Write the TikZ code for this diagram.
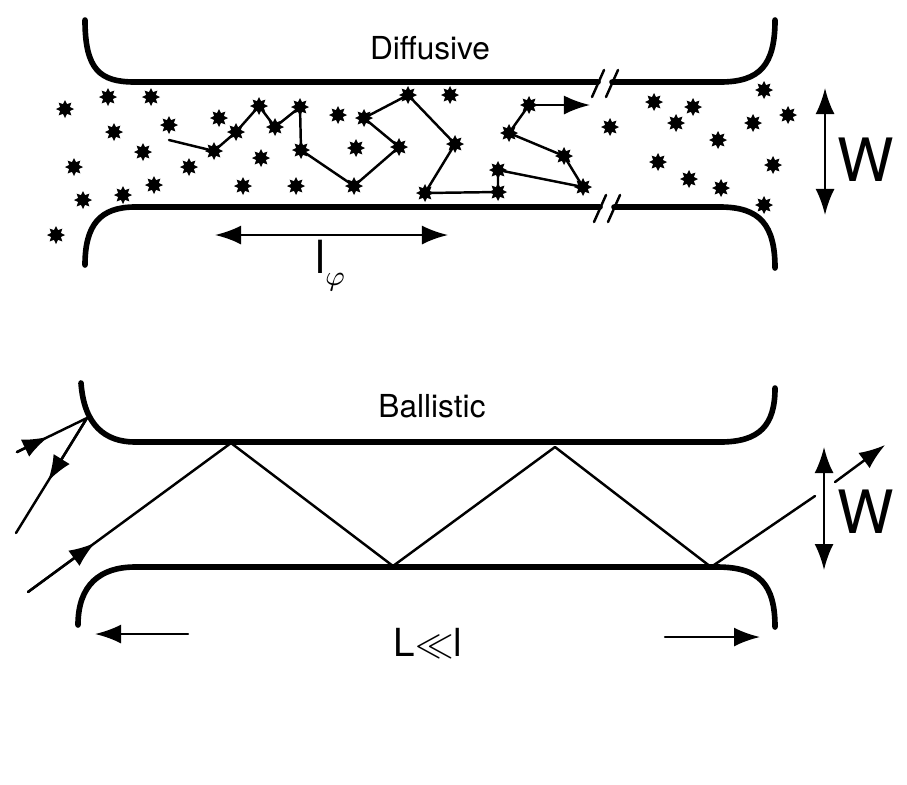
\documentclass[tikz,border=0pt]{standalone}
\usepackage{fontspec}
\setmainfont{TeX Gyre Heros}
\usetikzlibrary{shapes.geometric,arrows.meta,calc}
\begin{document}
\begin{tikzpicture}[x=0.01cm,y=-0.01cm,line join=round,line cap=round,
	>={Latex[length=2.6mm,width=1.9mm]},
	wall/.style={line width=1.6pt},
	ray/.style={line width=0.7pt},
	imp/.style={star,star points=8,star point ratio=1.7,fill,inner sep=0pt,minimum size=0.18cm},
	lab/.style={font=\fontsize{9}{10}\selectfont}]
	\useasboundingbox (0,0) rectangle (907,784);
	% diffusive wire
	\draw[wall] (85,20) .. controls (85,70) and (100,82) .. (135,82) -- (598,82);
	\draw[wall] (612,82) -- (720,82) .. controls (760,82) and (775,65) .. (775,20);
	\draw[wall] (85,265) .. controls (85,225) and (100,207) .. (135,207) -- (600,207);
	\draw[wall] (614,207) -- (720,207) .. controls (760,207) and (775,225) .. (775,268);
	\draw[ray] (592,97) -- (604,70) (606,97) -- (618,70);
	\draw[ray] (594,222) -- (606,195) (608,222) -- (620,195);
	\node[lab] (diff) at (430,48) {Diffusive};
	% impurities
	\foreach\x/\y [count=\i] in {108/97,151/97,65/109,114/132,169/125,219/118,338/115,
		450/95,143/152,261/158,356/148,74/167,189/167,154/185,243/186,296/186,123/195,
		83/200,56/235,610/127,654/102,693/107,676/123,718/140,658/162,689/179,721/188,
		764/90,788/115,753/123,773/165,764/205}
	{\node[imp] (i\i) at (\x,\y) {};}
	% random walk
	\foreach\x/\y [count=\i] in {214/151,236/132,259/106,275/127,300/107,301/150,354/186,
		399/147,364/118,408/95,455/144,425/193,498/192,498/170,583/187,564/156,509/133,529/105}
	{\node[imp] (p\i) at (\x,\y) {};}
	\coordinate (p0) at (169,140);
	\coordinate (pe) at (590,105);
	\draw[ray] (p0) \foreach\i in {1,...,18}{-- (p\i.center)};
	\draw[ray,->] (p18.center) -- (pe);
	\coordinate (la) at (215,235);
	\coordinate (lb) at (448,235);
	\draw[ray,<->] (la) -- (lb);
	\node[lab,font=\fontsize{13}{14}\selectfont] (lphi) at (330,266) {l\raisebox{-0.5ex}{\fontsize{8}{9}\selectfont$\varphi$}};
	\coordinate (wa) at (825,88);
	\coordinate (wb) at (825,215);
	\draw[ray,<->] (wa) -- (wb);
	\node[font=\fontsize{17}{18}\selectfont] (w1) at (866,160) {W};
	% ballistic wire
	\draw[wall] (81,383) .. controls (84,425) and (105,442) .. (135,442) -- (720,442)
		.. controls (760,442) and (775,425) .. (775,388);
	\draw[wall] (78,625) .. controls (78,585) and (100,567) .. (135,567) -- (717,567)
		.. controls (760,567) and (775,585) .. (775,627);
	\node[lab] (ball) at (432,406) {Ballistic};
	\coordinate (r0) at (28,592);
	\coordinate (r1) at (231,443);
	\coordinate (r2) at (393,566);
	\coordinate (r3) at (555,447);
	\coordinate (r4) at (711,567);
	\coordinate (r5) at (815,496);
	\coordinate (r6) at (835,482);
	\coordinate (r7) at (885,445);
	\draw[ray] (r0) -- (r1) -- (r2) -- (r3) -- (r4) -- (r5);
	\draw[ray,->] (r0) -- ($(r0)!0.33!(r1)$);
	\draw[ray,->] (r6) -- (r7);
	\coordinate (q0) at (17,452);
	\coordinate (q1) at (87,418);
	\coordinate (q2) at (16,533);
	\draw[ray] (q0) -- (q1) -- (q2);
	\draw[ray,->] (q0) -- ($(q0)!0.45!(q1)$);
	\draw[ray,->] (q1) -- ($(q1)!0.55!(q2)$);
	\coordinate (wc) at (824,447);
	\coordinate (wd) at (824,570);
	\draw[ray,<->] (wc) -- (wd);
	\node[font=\fontsize{17}{18}\selectfont] (w2) at (866,512) {W};
	\node[lab,font=\fontsize{11}{12}\selectfont] (len) at (428,643) {L$\ll$l};
	\coordinate (a1) at (188,634);
	\coordinate (a2) at (95,634);
	\coordinate (a3) at (665,637);
	\coordinate (a4) at (760,637);
	\draw[ray,->] (a1) -- (a2);
	\draw[ray,->] (a3) -- (a4);
\end{tikzpicture}
\end{document}
